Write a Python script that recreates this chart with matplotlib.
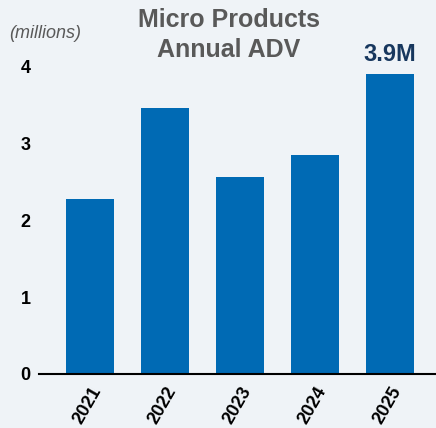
import matplotlib.pyplot as plt
import numpy as np

plt.rcParams['font.family'] = ['Liberation Sans', 'DejaVu Sans']

years = ["2021", "2022", "2023", "2024", "2025"]
adv = [2.27, 3.45, 2.56, 2.84, 3.90]
yticks = [0, 1, 2, 3, 4]

bg = "#eff3f7"
bar_color = "#006ab4"

fig = plt.figure(figsize=(4.36, 4.28), dpi=100, facecolor=bg)
ax = fig.add_axes([39 / 436, 54 / 428, 1 - 39 / 436, (374 - 66) / 428])
ax.set_facecolor(bg)

x = np.arange(len(years))
ax.bar(x, adv, width=0.64, color=bar_color, zorder=2)

ax.set_xlim(-0.68, 4.61)
ax.set_ylim(0, 4)
ax.set_yticks(yticks)
ax.set_yticklabels([str(v) for v in yticks], fontsize=13, fontweight="bold")
ax.set_xticks(x)
ax.set_xticklabels(years, rotation=60, ha="right", rotation_mode="anchor",
                   fontsize=13, fontweight="bold")
ax.tick_params(axis="both", length=0)
ax.tick_params(axis="y", pad=6)
ax.tick_params(axis="x", pad=7)

for s in ["top", "right", "left"]:
    ax.spines[s].set_visible(False)
ax.spines["bottom"].set_linewidth(1.5)
ax.spines["bottom"].set_color("black")

ax.text(x[-1], adv[-1] + 0.1, "3.9M", ha="center", va="bottom",
        fontsize=17, fontweight="bold", color="#17375e", clip_on=False)

fig.text(229 / 436, 1 - 35 / 428, "Micro Products\nAnnual ADV", ha="center",
         va="center", fontsize=18, fontweight="bold", color="#595959",
         linespacing=1.3)
fig.text(9 / 436, 1 - 33 / 428, "(millions)", ha="left", va="center",
         fontsize=13, style="italic", color="#595959")

fig.savefig("out.png", dpi=100, facecolor=bg)
